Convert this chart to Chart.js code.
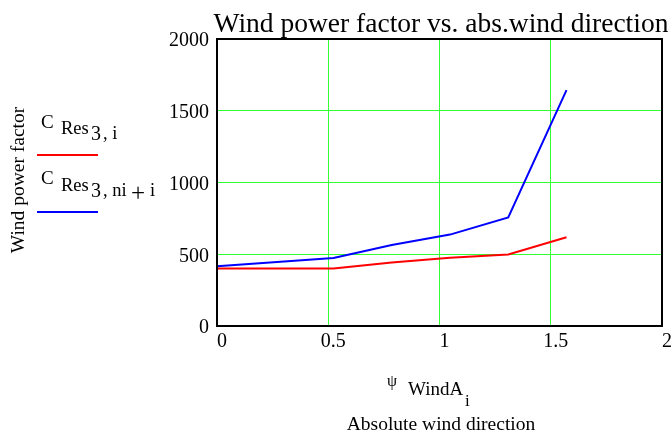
<!DOCTYPE html>
<html>
<head>
<meta charset="utf-8">
<script src="https://cdn.jsdelivr.net/npm/chart.js@4/dist/chart.umd.min.js"></script>
<style>
  body { margin: 0; background: #fff; }
  #wrap { width: 671px; height: 434px; }
</style>
</head>
<body>
<div id="wrap"><canvas id="myChart" width="671" height="434"></canvas></div>
<script>
// wind direction (rad) and the two power factor series
const psiWind = [0, 0.5236, 0.7854, 1.0472, 1.309, 1.5708];
const cResI = [400, 400, 442, 476, 498, 618];
const cResNiI = [416, 474, 565, 637, 756, 1644];
const xTicks = [0, 0.5, 1, 1.5, 2];
const yTicks = [0, 500, 1000, 1500, 2000];

const serif = "'Liberation Serif', 'Times New Roman', serif";

function pts(xs, ys) {
  return xs.map((x, i) => ({ x: x, y: ys[i] }));
}

// frame, title, legend and axis captions in the Mathcad style
const decor = {
  id: 'decor',
  afterDraw(chart) {
    const c = chart.ctx;
    const a = chart.chartArea;
    c.save();
    c.strokeStyle = '#000';
    c.lineWidth = 2;
    c.strokeRect(a.left, a.top, a.right - a.left, a.bottom - a.top);

    c.fillStyle = '#000';
    c.textBaseline = 'alphabetic';
    c.textAlign = 'center';
    c.font = '27.5px ' + serif;
    c.fillText('Wind power factor vs. abs.wind direction', 441, 32);

    // y axis caption
    c.save();
    c.translate(24, 180);
    c.rotate(-Math.PI / 2);
    c.font = '19.5px ' + serif;
    c.fillText('Wind power factor', 0, 0);
    c.restore();

    // legend
    c.textAlign = 'left';
    c.font = '19px ' + serif;
    c.fillText('C', 41, 128);
    c.font = '18.5px ' + serif;
    c.fillText('Res', 61, 134);
    c.font = '20px ' + serif;
    c.fillText('3', 91, 140);
    c.font = '18.5px ' + serif;
    c.fillText(', i', 103, 139);
    c.strokeStyle = 'red';
    c.lineWidth = 2;
    c.beginPath(); c.moveTo(37, 155); c.lineTo(98, 155); c.stroke();

    c.font = '19px ' + serif;
    c.fillText('C', 41, 184);
    c.font = '18.5px ' + serif;
    c.fillText('Res', 61, 191);
    c.font = '20px ' + serif;
    c.fillText('3', 91, 197);
    c.font = '18.5px ' + serif;
    c.fillText(', ni', 103, 196);
    c.font = '25px ' + serif;
    c.fillText('+', 131, 201);
    c.font = '18.5px ' + serif;
    c.fillText('i', 150, 196);
    c.strokeStyle = 'blue';
    c.beginPath(); c.moveTo(37, 212); c.lineTo(98, 212); c.stroke();

    // x axis caption
    c.font = '16px ' + serif;
    c.fillText('\u03C8', 387, 386);
    c.font = '19px ' + serif;
    c.fillText('WindA', 408, 395);
    c.font = '17px ' + serif;
    c.fillText('i', 465, 406);
    c.textAlign = 'center';
    c.font = '19.5px ' + serif;
    c.fillText('Absolute wind direction', 441, 430);
    c.restore();
  }
};

const ctx = document.getElementById('myChart');

const myChart = new Chart(ctx, {
  type: 'line',
  data: {
    datasets: [
      {
        label: 'C Res3,i',
        data: pts(psiWind, cResI),
        borderColor: 'red',
        borderWidth: 2,
        pointRadius: 0,
        tension: 0,
      },
      {
        label: 'C Res3,ni+i',
        data: pts(psiWind, cResNiI),
        borderColor: 'blue',
        borderWidth: 2,
        pointRadius: 0,
        tension: 0,
      },
    ],
  },
  options: {
    responsive: false,
    animation: false,
    layout: { padding: { top: 39, right: 9, left: 0, bottom: 0 } },
    plugins: { legend: { display: false }, tooltip: { enabled: false } },
    scales: {
      x: {
        type: 'linear',
        min: 0,
        max: 2,
        afterFit: (s) => { s.height = 108; },
        afterBuildTicks: (s) => { s.ticks = xTicks.map(v => ({ value: v })); },
        grid: { color: '#33ff33', lineWidth: 1, drawTicks: false },
        border: { display: false },
        ticks: {
          color: '#000',
          font: { family: serif, size: 20 },
          padding: 4,
          labelOffset: 5,
          maxRotation: 0,
          callback: (v) => String(v),
        },
      },
      y: {
        min: 0,
        max: 2000,
        afterFit: (s) => { s.width = 217; },
        afterBuildTicks: (s) => { s.ticks = yTicks.map(v => ({ value: v })); },
        grid: { color: '#33ff33', lineWidth: 1, drawTicks: false },
        border: { display: false },
        ticks: {
          color: '#000',
          font: { family: serif, size: 20 },
          padding: 8,
          labelOffset: 2,
          callback: (v) => String(v),
        },
      },
    },
  },
  plugins: [decor],
});
</script>
</body>
</html>
